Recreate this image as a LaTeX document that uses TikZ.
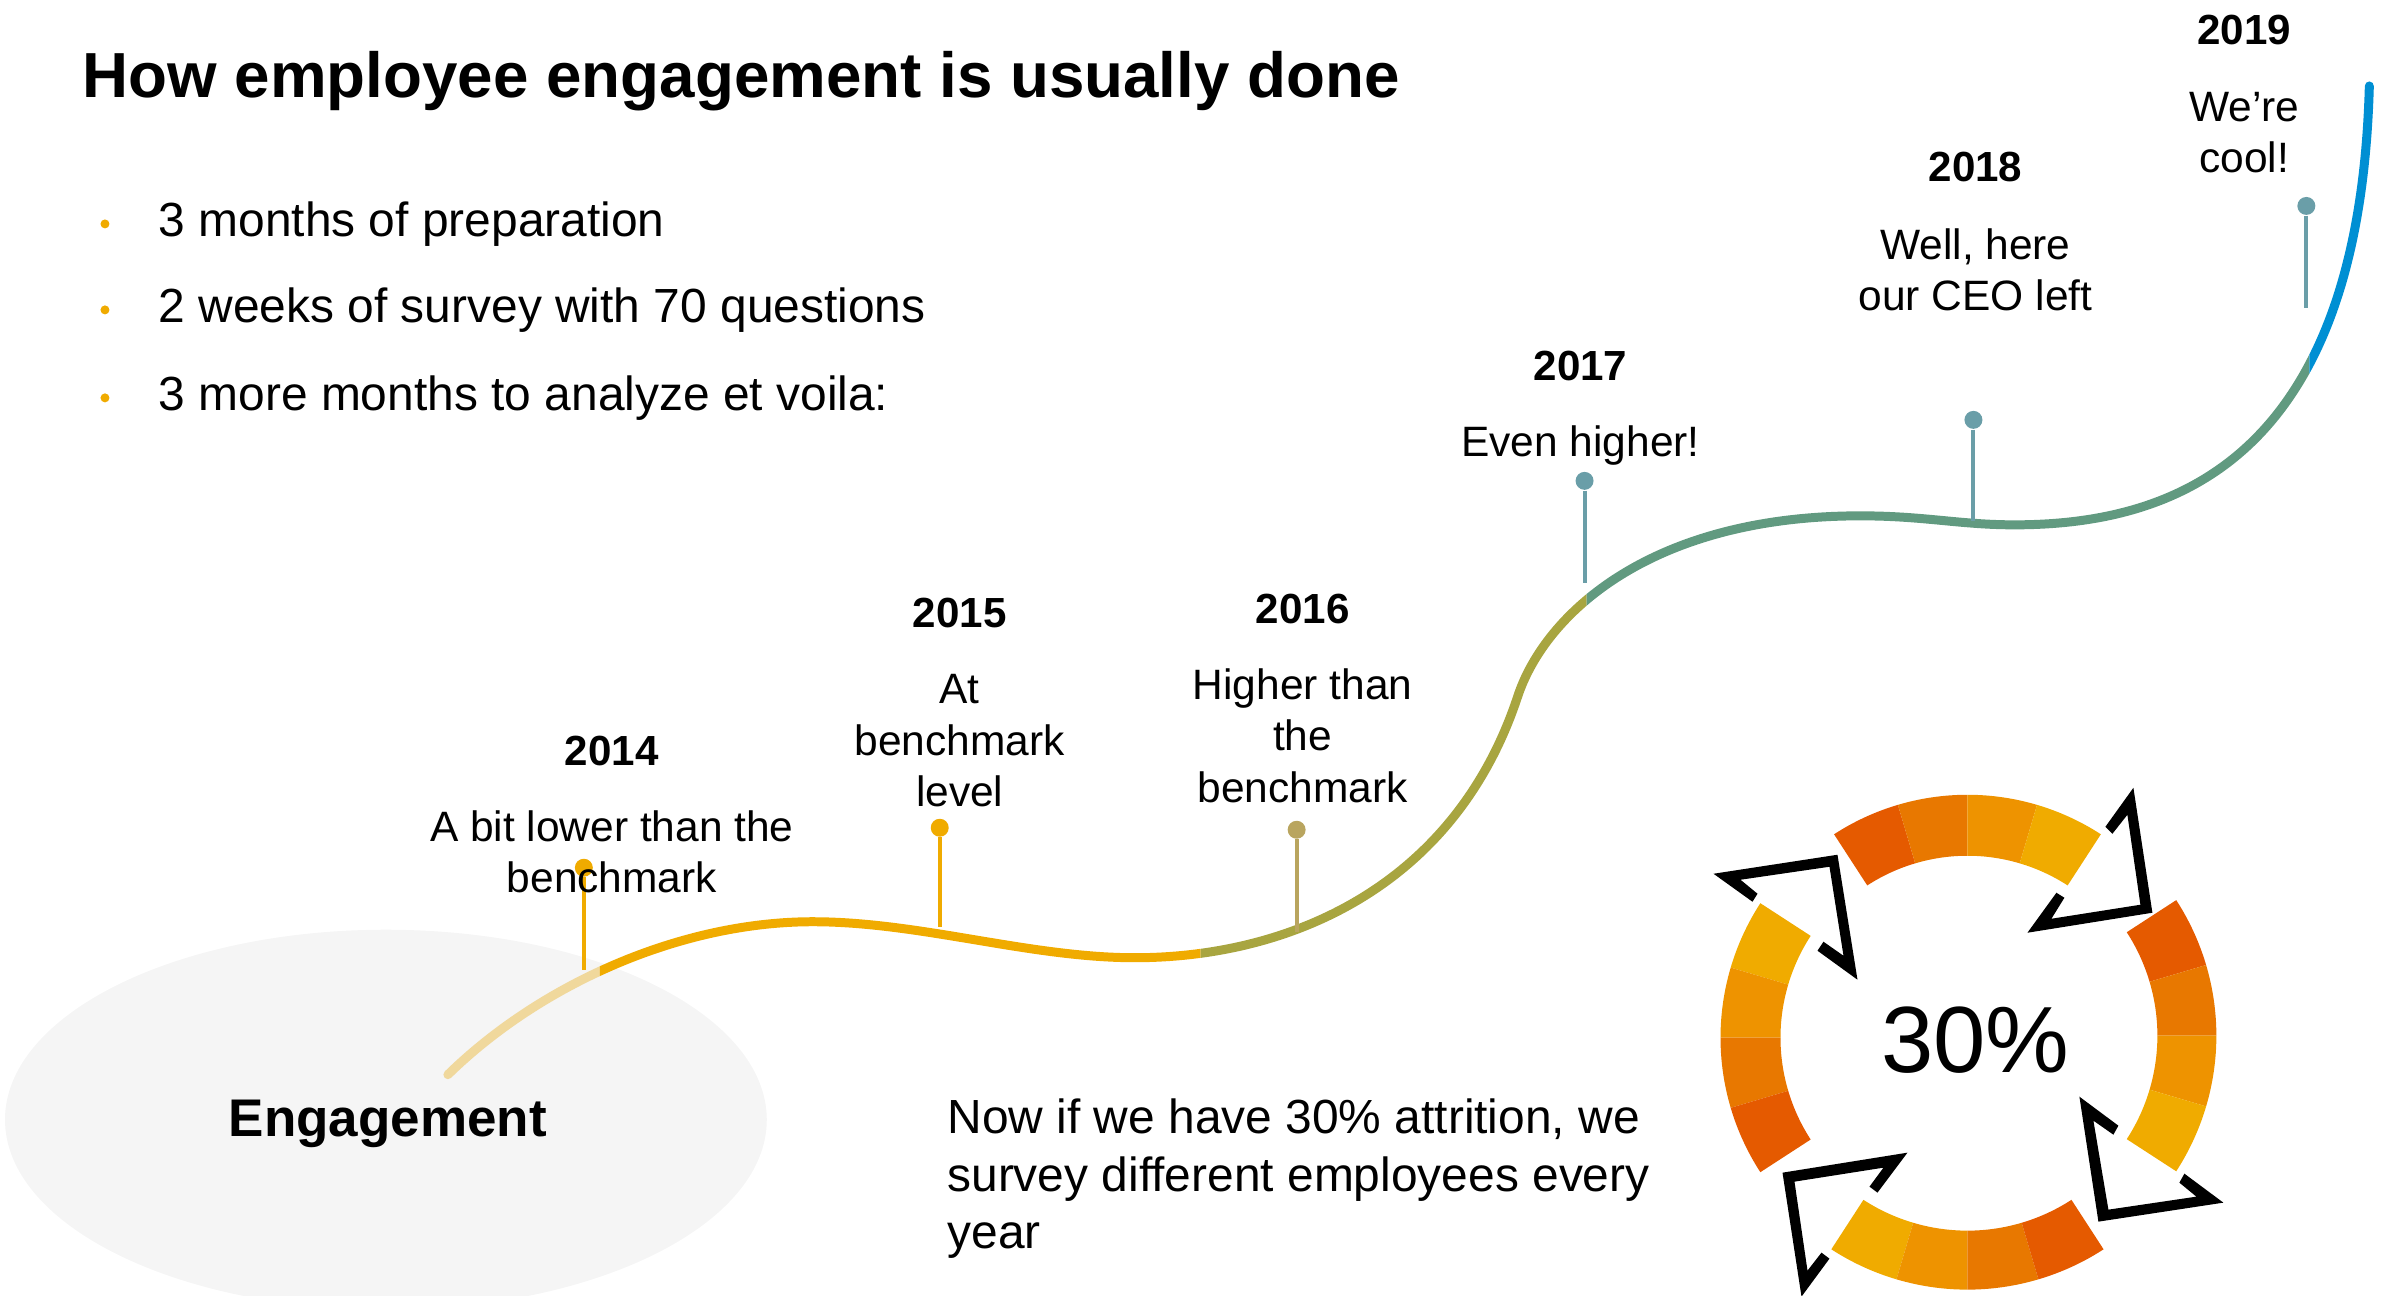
\documentclass[tikz,border=0pt]{standalone}
\usepackage{fontspec}
\setmainfont{Liberation Sans}
\definecolor{paleline}{HTML}{F0D89C}
\definecolor{sapgold}{HTML}{F0AB00}
\definecolor{oliveline}{HTML}{A8A540}
\definecolor{greenline}{HTML}{619A80}
\definecolor{blueline}{HTML}{008FD3}
\definecolor{pinolive}{HTML}{B9A55F}
\definecolor{pinteal}{HTML}{6A9EA8}
\definecolor{ringa}{HTML}{E55A00}
\definecolor{ringb}{HTML}{E87800}
\definecolor{ringc}{HTML}{EE9300}
\definecolor{ringd}{HTML}{F0AB00}
\newcommand{\trendcurve}{(448,1075) .. controls (540,985) and (680,922) .. (813,922) .. controls (920,922) and (1030,958) .. (1135,958) .. controls (1290,958) and (1455,887) .. (1518,697) .. controls (1545,615) and (1650,516) .. (1861,516) .. controls (1925,516) and (1960,525) .. (2015,525) .. controls (2175,525) and (2360,460) .. (2370,86)}
\tikzset{
    bodytext/.style={inner sep=0pt, font=\fontsize{13.65}{16.5}\selectfont, align=left},
    yeartext/.style={inner sep=0pt, font=\fontsize{12}{14.5}\selectfont\bfseries, align=center},
    pintext/.style={inner sep=0pt, font=\fontsize{12.1}{14.6}\selectfont, align=center},
    pindot/.style={circle, inner sep=0pt, minimum size=0.18cm},
    bulletdot/.style={circle, fill=sapgold, inner sep=0pt, minimum size=0.09cm},
}
\begin{document}
\begin{tikzpicture}[x=0.010013cm,y=-0.010013cm]
    \useasboundingbox (0,0) rectangle (23.86cm,-12.97cm);
    \clip (0,0) rectangle (23.86cm,-12.97cm);
    \fill[black!4] (386,1120) ellipse (381 and 190);

    \node[anchor=west, inner sep=0pt, font=\fontsize{18.15}{21}\selectfont\bfseries] (title) at (82,81) {How employee engagement is usually done};
    \foreach \ypos/\name/\txt in {224/one/3 months of preparation, 310/two/2 weeks of survey with 70 questions, 398/three/3 more months to analyze et voila:} {
        \node[bulletdot] (dot\name) at (105,\ypos) {};
        \node[bodytext, anchor=west] (item\name) at (158,\ypos) {\txt};
    }

    \foreach \xa/\xb/\col in {0/600/paleline, 600/1201/sapgold, 1201/1587/oliveline, 1587/2310/greenline, 2310/2383/blueline} {
        \begin{scope}
            \clip (\xa,0) rectangle (\xb,1297);
            \draw[\col, line width=0.09cm, line cap=round] \trendcurve;
        \end{scope}
    }

    \foreach \name/\xpos/\ytop/\ybot/\col in {a/584/868/970/sapgold, b/940/828/927/sapgold, c/1297/830/932/pinolive, d/1585/481/583/pinteal, e/1974/420/521/pinteal, f/2307/206/308/pinteal} {
        \node[pindot, fill=\col] (pin\name) at (\xpos,\ytop) {};
        \coordinate (foot\name) at (\xpos,\ybot);
        \draw[\col, line width=0.04cm] (pin\name) -- (foot\name);
    }

    \node[yeartext] (y2014) at (612,751) {2014};
    \node[pintext] (t2014) at (612,852) {A bit lower than the\\benchmark};
    \node[yeartext] (y2015) at (960,613) {2015};
    \node[pintext] (t2015) at (960,741) {At\\benchmark\\level};
    \node[yeartext] (y2016) at (1303,609) {2016};
    \node[pintext] (t2016) at (1303,736) {Higher than\\the\\benchmark};
    \node[yeartext] (y2017) at (1581,366) {2017};
    \node[pintext] (t2017) at (1581,446) {Even higher!};
    \node[yeartext] (y2018) at (1976,167) {2018};
    \node[pintext] (t2018) at (1976,270) {Well, here\\our CEO left};
    \node[yeartext] (y2019) at (2245,30) {2019};
    \node[pintext] (t2019) at (2245,133) {We’re\\cool!};

    \node[inner sep=0pt, font=\fontsize{15.1}{18}\selectfont\bfseries] (engagement) at (388,1124) {Engagement};
    \node[bodytext, anchor=north west] (note) at (947,1098) {Now if we have 30\% attrition, we\\survey different employees every\\year};
    \node[inner sep=0pt, font=\fontsize{26.8}{30}\selectfont] (ringlabel) at (1976,1040) {30\%};

    \foreach \cy/\rout/\rin/\start/\sweep/\ca/\cb/\cc/\cd in {1040/245/184/123/-16.5/ringa/ringb/ringc/ringd, 1036/249/190/33/-16.5/ringa/ringb/ringc/ringd, 1038/247/187/147/16.5/ringd/ringc/ringb/ringa, 1040/250/191/237/16.5/ringd/ringc/ringb/ringa} {
        \begin{scope}[shift={(1968,\cy)}, y=0.010013cm]
            \foreach \idx/\col in {0/\ca,1/\cb,2/\cc,3/\cd} {
                \pgfmathsetmacro{\aone}{\start+\sweep*\idx}
                \pgfmathsetmacro{\atwo}{\start+\sweep*(\idx+1)}
                \fill[\col] (\aone:\rout) arc (\aone:\atwo:\rout) -- (\atwo:\rin) arc (\atwo:\aone:\rin) -- cycle;
            }
        \end{scope}
    }

    \fill[black] (2106,827) -- (2134,788) -- (2153,913) -- (2028,933) -- (2057,893) -- (2065,898) -- (2052,919) -- (2141,905) -- (2128,815) -- (2113,834) -- cycle;
    \fill[black] (1758,894) -- (1741,880) -- (1830,867) -- (1844,956) -- (1824,942) -- (1818,951) -- (1858,980) -- (1838,855) -- (1714,874) -- (1753,902) -- cycle;
    \fill[black] (1908,1153) -- (1783,1173) -- (1802,1297) -- (1830,1259) -- (1822,1253) -- (1808,1271) -- (1795,1182) -- (1884,1168) -- (1870,1187) -- (1878,1193) -- cycle;
    \fill[black] (2080,1097) -- (2099,1222) -- (2224,1203) -- (2185,1174) -- (2180,1183) -- (2197,1197) -- (2109,1210) -- (2094,1121) -- (2114,1135) -- (2119,1126) -- cycle;
\end{tikzpicture}
\end{document}
